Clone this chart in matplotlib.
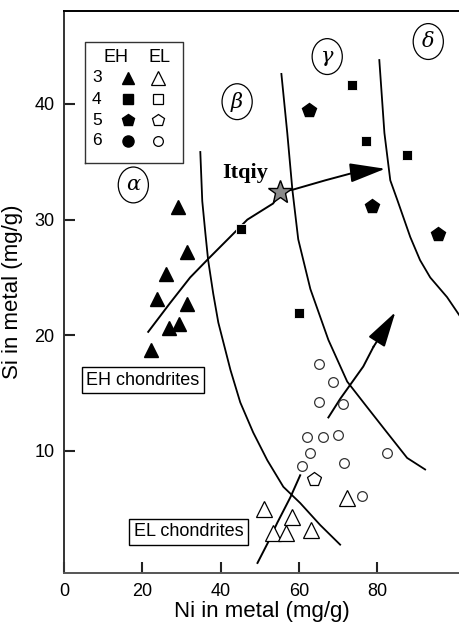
import matplotlib
matplotlib.use("Agg")
import matplotlib.pyplot as plt
from matplotlib.patches import Ellipse
import numpy as np

plt.rcParams['font.family'] = ['Liberation Sans', 'DejaVu Sans']

# ---------------- data ----------------
eh3_x = [29.2, 31.5, 26.1, 23.8, 31.5, 26.9, 29.4, 22.3]
eh3_y = [31.1, 27.2, 25.3, 23.1, 22.7, 20.6, 21.0, 18.7]
eh4_x = [73.4, 77.2, 87.6, 45.3, 60.1]
eh4_y = [41.6, 36.8, 35.6, 29.2, 21.9]
eh5_x = [62.6, 78.7, 95.6]
eh5_y = [39.5, 31.2, 28.8]

el3_x = [72.3, 51.1, 58.3, 53.4, 56.7, 63.1]
el3_y = [5.9, 5.0, 4.3, 2.9, 2.9, 3.2]
el5_x = [63.9]
el5_y = [7.6]
el6_x = [65.2, 68.8, 65.2, 71.3, 62.1, 66.2, 70.0, 62.9, 60.8, 71.6, 82.5, 76.2]
el6_y = [17.5, 16.0, 14.2, 14.1, 11.2, 11.2, 11.4, 9.8, 8.7, 9.0, 9.8, 6.1]

itqiy_x = [55.2]
itqiy_y = [32.4]

# boundary curves between metamorphic regions
curve_ab_x = [34.8, 35.3, 36.1, 36.8, 38.1, 39.4, 42.5, 45.0, 48.3, 51.9, 56.0, 60.3, 65.4, 70.5]
curve_ab_y = [35.85, 31.6, 28.8, 26.5, 23.6, 21.1, 17.0, 14.2, 11.6, 9.2, 6.9, 5.5, 3.6, 1.9]
curve_bg_x = [55.5, 57.0, 58.3, 59.8, 62.9, 67.5, 72.3, 76.9, 82.0, 87.6, 92.2]
curve_bg_y = [42.6, 37.5, 32.6, 28.3, 24.0, 19.6, 16.0, 14.0, 11.8, 9.4, 8.4]
curve_gd_x = [80.5, 81.8, 83.3, 85.1, 88.4, 90.9, 93.5, 97.8, 101.2]
curve_gd_y = [43.8, 37.5, 33.4, 31.7, 28.5, 26.5, 25.0, 23.3, 21.6]

# trend arrows
arrow_eh_x = [21.5, 27.1, 32.2, 36.8, 42.4, 46.8, 53.4, 55.2, 58.5, 66.7, 74.4]
arrow_eh_y = [20.3, 22.8, 25.0, 26.6, 28.5, 30.0, 31.4, 32.4, 32.6, 33.4, 34.1]
arrow_eh_tip = (82.0, 34.4)
arrow_el_x = [49.4, 52.1, 54.4, 57.8, 60.3, np.nan, 67.5, 70.5, 76.4, 79.0]
arrow_el_y = [0.32, 2.1, 3.76, 6.0, 7.9, np.nan, 12.9, 14.5, 17.3, 19.0]
arrow_el_tip = (84.6, 22.0)

region_labels = ['α', 'β', 'γ', 'δ']
region_x = [17.7, 44.2, 67.2, 93.0]
region_y = [33.0, 40.2, 44.1, 45.4]

x_ticks = [0, 20, 40, 60, 80]
y_ticks = [10, 20, 30, 40]

# ---------------- figure ----------------
W, H = 460, 629
fig = plt.figure(figsize=(W / 100, H / 100), dpi=100)
ax = fig.add_axes([64 / W, 56 / H, (W - 64) / W, (573 - 11) / H])
ax.set_xlim(0, 101.1)
ax.set_ylim(-0.55, 48.04)

for s in ['top', 'left', 'bottom']:
    ax.spines[s].set_linewidth(1.4)
ax.spines['right'].set_visible(False)
ax.spines['left'].set_color('#333333')
ax.spines['bottom'].set_color('#555555')
ax.spines['top'].set_color('black')

ax.set_xticks(x_ticks)
ax.set_yticks(y_ticks)
ax.tick_params(direction='in', length=8, width=1.5, labelsize=13, pad=7, color='#222222')
ax.set_xlabel('Ni in metal (mg/g)', fontsize=16, labelpad=1)
ax.set_ylabel('Si in metal (mg/g)', fontsize=16, labelpad=8)

lc = 'black'
ax.plot(curve_ab_x, curve_ab_y, color=lc, lw=1.3)
ax.plot(curve_bg_x, curve_bg_y, color=lc, lw=1.3)
ax.plot(curve_gd_x, curve_gd_y, color=lc, lw=1.3)

ax.plot(arrow_eh_x, arrow_eh_y, color=lc, lw=1.4)
ax.annotate('', xy=arrow_eh_tip, xytext=(arrow_eh_x[-1], arrow_eh_y[-1]),
            arrowprops=dict(arrowstyle='-|>,head_length=2.2,head_width=0.6',
                            mutation_scale=10, color=lc, lw=1.4,
                            shrinkA=0, shrinkB=0))
ax.plot(arrow_el_x, arrow_el_y, color=lc, lw=1.4)
ax.annotate('', xy=arrow_el_tip, xytext=(arrow_el_x[-1], arrow_el_y[-1]),
            arrowprops=dict(arrowstyle='-|>,head_length=2.2,head_width=0.6',
                            mutation_scale=10, color=lc, lw=1.4,
                            shrinkA=0, shrinkB=0))

# data points
ax.plot(eh3_x, eh3_y, '^', ms=10, color='black', zorder=5)
ax.plot(eh4_x, eh4_y, 's', ms=6.5, color='black', mec='white', mew=0.6, zorder=5)
ax.plot(eh5_x, eh5_y, 'p', ms=10, color='black', zorder=5)
ax.plot(el3_x, el3_y, '^', ms=11, mfc='white', mec='black', mew=0.9, zorder=5)
ax.plot(el5_x, el5_y, 'p', ms=10, mfc='white', mec='black', mew=0.9, zorder=5)
ax.plot(el6_x, el6_y, 'o', ms=7, mfc='white', mec='#333333', mew=0.9, zorder=5)

ax.plot(itqiy_x, itqiy_y, '*', ms=18, mfc='#8a8a8a', mec='black', mew=1.0, zorder=6)
ax.text(46.2, 33.6, 'Itqiy', family=['Liberation Serif', 'DejaVu Serif'],
        fontweight='bold', fontsize=16, ha='center', va='baseline', zorder=7)

# region labels
for lab, rx, ry in zip(region_labels, region_x, region_y):
    ax.add_patch(Ellipse((rx, ry), 7.7, 3.1, fill=False, ec='black', lw=0.9))
    ax.text(rx, ry, lab, family=['DejaVu Serif'], fontstyle='italic',
            fontsize=15, ha='center', va='center')

box = dict(boxstyle='square,pad=0.25', fc='white', ec='black', lw=1.0)
ax.text(20.1, 16.1, 'EH chondrites', fontsize=13, ha='center', va='center', bbox=box)
ax.text(31.8, 3.0, 'EL chondrites', fontsize=13, ha='center', va='center', bbox=box)

# legend table (axes fraction)
tr = ax.transAxes
lx0, lx1, ly0, ly1 = 0.053, 0.301, 0.729, 0.945
ax.plot([lx0, lx1, lx1, lx0, lx0], [ly0, ly0, ly1, ly1, ly0], color='#333333',
        lw=1.0, transform=tr, clip_on=False)
ax.text(0.131, 0.918, 'EH', fontsize=13, ha='center', va='center', transform=tr)
ax.text(0.240, 0.918, 'EL', fontsize=13, ha='center', va='center', transform=tr)
leg_rows = ['3', '4', '5', '6']
leg_eh = [('^', 9), ('s', 7), ('p', 9), ('o', 8)]
leg_el = [('^', 10), ('s', 7), ('p', 9), ('o', 7)]
row_y = [0.881, 0.843, 0.806, 0.769]
for lab, (m1, s1), (m2, s2), yy in zip(leg_rows, leg_eh, leg_el, row_y):
    ax.text(0.083, yy, lab, fontsize=12.5, ha='center', va='center', transform=tr)
    ax.plot([0.162], [yy], m1, ms=s1, color='black', transform=tr)
    ax.plot([0.237], [yy], m2, ms=s2, mfc='white', mec='black', mew=0.9, transform=tr)

fig.savefig('out.png', dpi=100)
